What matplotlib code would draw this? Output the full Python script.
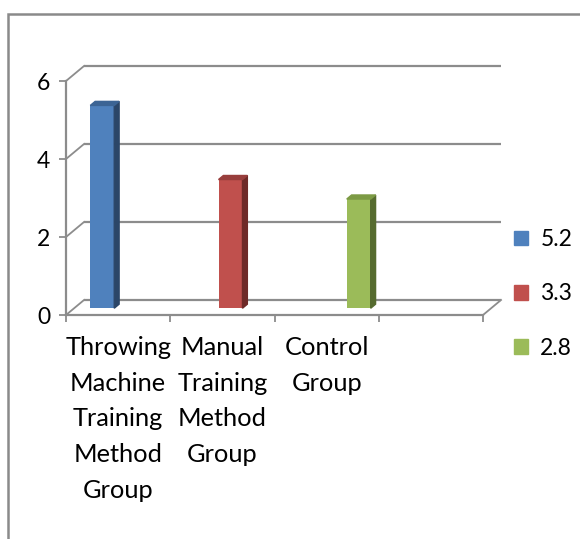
import matplotlib
matplotlib.use('Agg')
import matplotlib.pyplot as plt
from matplotlib.patches import Polygon, Patch, Rectangle

categories = ['Throwing\nMachine\nTraining\nMethod\nGroup',
              'Manual\nTraining\nMethod\nGroup',
              'Control\nGroup',
              '']
series = ['5.2', '3.3', '2.8']
values = [5.2, 3.3, 2.8]
front_colors = ['#4F81BD', '#C0504D', '#9BBB59']
side_colors = ['#2B4668', '#6E2A28', '#566B2F']
top_colors = ['#3C6494', '#983E3C', '#7C9A44']

plt.rcParams['font.family'] = ['Lato', 'DejaVu Sans']

fig = plt.figure(figsize=(5.8, 5.39), dpi=100)
W, H = 580, 539
ax = fig.add_axes([66 / W, 1 - 315 / H, (483 - 66) / W, (315 - 81) / H])
ax.set_xlim(-0.5, 3.5)
ax.set_ylim(0, 6)

# depth of the 3d box in data units
DX, DY = 0.173, 0.385
grid_c = '#8c8c8c'

# back wall grid + left side diagonals
for v in [0, 2, 4, 6]:
    ax.plot([-0.5 + DX, 3.5 + DX], [v + DY, v + DY], color=grid_c, lw=1.6,
            clip_on=False, zorder=1, solid_capstyle='butt')
    ax.plot([-0.5, -0.5 + DX], [v, v + DY], color=grid_c, lw=1.3,
            clip_on=False, zorder=1)
# floor front edge and right diagonal
ax.plot([-0.5, 3.5], [0, 0], color=grid_c, lw=1.6, clip_on=False, zorder=1)
ax.plot([3.5, 3.5 + DX], [0, DY], color=grid_c, lw=1.3, clip_on=False, zorder=1)
ax.plot([-0.5, -0.5], [0, 6], color=grid_c, lw=1.6, clip_on=False, zorder=1)

# bars (clustered, one series per category)
w = 0.23
f0, f1 = 0.45, 0.72
for i, v in enumerate(values):
    xc = i + (i - 1) * w
    xl = xc - w / 2 + f0 * DX
    xr = xl + w
    b = f0 * DY
    ddx, ddy = (f1 - f0) * DX, (f1 - f0) * DY
    ax.bar(xl, v, width=w, bottom=b, align='edge', color=front_colors[i],
           zorder=3, clip_on=False)
    ax.add_patch(Polygon([(xr, b), (xr, v + b), (xr + ddx, v + b + ddy), (xr + ddx, b + ddy)],
                         closed=True, color=side_colors[i], zorder=3, clip_on=False))
    ax.add_patch(Polygon([(xl, v + b), (xr, v + b), (xr + ddx, v + b + ddy), (xl + ddx, v + b + ddy)],
                         closed=True, color=top_colors[i], zorder=3, clip_on=False))

for s in ax.spines.values():
    s.set_visible(False)

ax.set_yticks([0, 2, 4, 6])
ax.set_yticklabels(['0', '2', '4', '6'])
ax.tick_params(axis='y', length=5, width=1.3, color=grid_c, labelsize=16.5, pad=6.5)

ax.set_xticks([0, 1, 2, 3])
ax.set_xticklabels(categories, linespacing=1.67)
ax.set_xticks([-0.5, 0.5, 1.5, 2.5, 3.5], minor=True)
ax.tick_params(axis='x', which='major', length=0, labelsize=18.3, pad=15)
ax.tick_params(axis='x', which='minor', length=5, width=1.3, color=grid_c)
for lab in ax.get_xticklabels():
    lab.set_verticalalignment('top')

handles = [Patch(color=c, label=s) for c, s in zip(front_colors, series)]
fig.legend(handles=handles, loc='center left', bbox_to_anchor=(514 / W, 1 - 294 / H),
           frameon=False, fontsize=16.5, handlelength=0.6, handleheight=0.6,
           handletextpad=0.55, labelspacing=1.45, borderpad=0, borderaxespad=0)

# outer chart border (cut at right and bottom)
fig.patches.append(Rectangle((8 / W, -0.1), 1.2, 1 - 14 / H + 0.1, transform=fig.transFigure,
                             fill=False, edgecolor='#8a8a8a', lw=1.8))

fig.savefig('out.png', dpi=100)
